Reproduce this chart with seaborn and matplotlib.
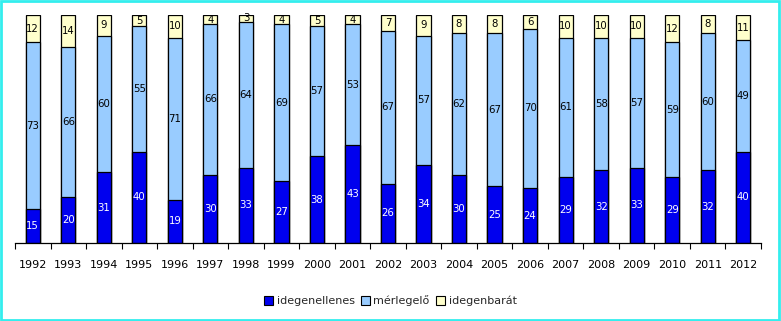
import matplotlib
matplotlib.use("Agg")
import matplotlib.pyplot as plt
import seaborn as sns
import pandas as pd
import numpy as np
from matplotlib.patches import Patch, Rectangle

years = [str(y) for y in range(1992, 2013)]
idegenellenes = [15, 20, 31, 40, 19, 30, 33, 27, 38, 43, 26, 34, 30, 25, 24, 29, 32, 33, 29, 32, 40]
merlegelo = [73, 66, 60, 55, 71, 66, 64, 69, 57, 53, 67, 57, 62, 67, 70, 61, 58, 57, 59, 60, 49]
idegenbarat = [12, 14, 9, 5, 10, 4, 3, 4, 5, 4, 7, 9, 8, 8, 6, 10, 10, 10, 12, 8, 11]
series_names = ["idegenellenes", "mérlegelő", "idegenbarát"]
colors = ["#0000ee", "#99ccff", "#ffffcc"]

sns.set_theme(style="white")
plt.rcParams["font.family"] = ["DejaVu Sans"]

df = pd.DataFrame({"year": years, "a": idegenellenes, "b": merlegelo, "c": idegenbarat})
df["ab"] = df["a"] + df["b"]
df["abc"] = df["ab"] + df["c"]

fig = plt.figure(figsize=(7.81, 3.21), dpi=100)
ax = fig.add_axes([15 / 781, (321 - 243) / 321, (761 - 15) / 781, 228 / 321])

for col, c in zip(["abc", "ab", "a"], colors[::-1]):
    sns.barplot(data=df, x="year", y=col, color=c, edgecolor="black",
                linewidth=0.9, width=0.4, ax=ax, saturation=1)

for i in range(len(years)):
    a, b, c = idegenellenes[i], merlegelo[i], idegenbarat[i]
    ax.text(i, a / 2, str(a), ha="center", va="center", color="white", fontsize=7.3)
    ax.text(i, a + b / 2, str(b), ha="center", va="center", color="black", fontsize=7.3)
    ax.text(i, a + b + c / 2, str(c), ha="center", va="center", color="black", fontsize=7.3)

ax.set_xlim(-0.5, len(years) - 0.5)
ax.set_ylim(0, 100)
ax.set_xlabel("")
ax.set_ylabel("")
ax.set_yticks([])
for s in ["top", "right", "left"]:
    ax.spines[s].set_visible(False)
ax.spines["bottom"].set_color("black")
ax.spines["bottom"].set_linewidth(0.9)
ax.set_xticks(np.arange(-0.5, len(years), 1), minor=True)
ax.tick_params(axis="x", which="minor", bottom=True, length=4, width=0.8, color="black", direction="out")
ax.tick_params(axis="x", which="major", bottom=False, length=0, pad=12, labelsize=8, labelcolor="black")
ax.set_facecolor("white")

handles = [Patch(facecolor=c, edgecolor="black", linewidth=0.8) for c in colors]
fig.legend(handles, series_names, loc="center", bbox_to_anchor=(0.5, (321 - 301) / 321),
           ncol=3, frameon=False, fontsize=8, handlelength=0.8, handleheight=0.8,
           handletextpad=0.3, columnspacing=0.6)

fig.patches.append(Rectangle((0.001, 0.002), 0.997, 0.995, transform=fig.transFigure,
                             fill=False, edgecolor="#33eeee", linewidth=2))

fig.savefig("out.png", dpi=100, facecolor="white")
